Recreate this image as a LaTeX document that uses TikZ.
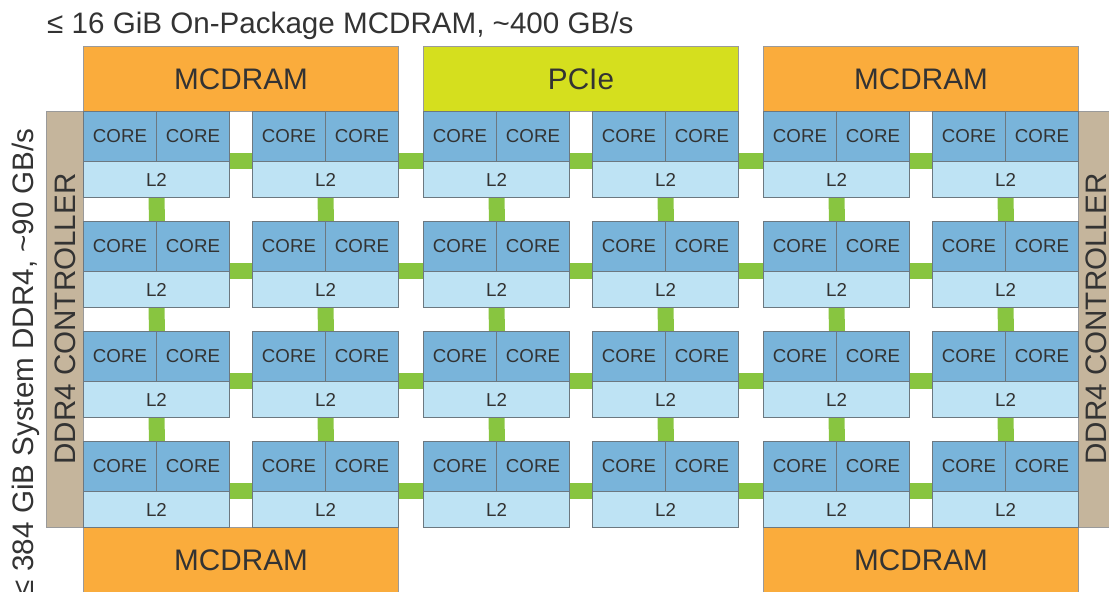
\documentclass[tikz,border=0pt]{standalone}
\usepackage{fontspec}
\setmainfont{Liberation Sans}
\pgfdeclarelayer{bg}
\pgfsetlayers{bg,main}
\definecolor{mcd}{HTML}{FAAC3C}
\definecolor{pcie}{HTML}{D5DF1E}
\definecolor{corec}{HTML}{79B4DA}
\definecolor{ltwoc}{HTML}{BEE3F4}
\definecolor{linkc}{HTML}{88C540}
\definecolor{ctrl}{HTML}{C5B59C}
\definecolor{bord}{HTML}{6C7880}
\definecolor{lbord}{HTML}{9A9A9A}
\definecolor{txt}{HTML}{333333}
\tikzset{
  blk/.style={rectangle, inner sep=0pt, anchor=north west, text=txt},
  core/.style={blk, draw=bord, line width=1pt, fill=corec, minimum width=73pt, minimum height=50pt, font=\fontsize{18.7}{20}\selectfont},
  ltwo/.style={blk, draw=bord, line width=1pt, fill=ltwoc, minimum width=146pt, minimum height=36pt, font=\fontsize{18.7}{20}\selectfont},
  big/.style={blk, draw=lbord, line width=1pt, minimum width=315pt, minimum height=65pt, font=\fontsize{29.7}{32}\selectfont},
  ctrlbox/.style={blk, draw=lbord, line width=1pt, fill=ctrl, minimum width=37pt, minimum height=416pt},
  lnk/.style={draw=linkc, line width=16pt},
  lbl/.style={text=txt, inner sep=0pt, font=\fontsize{29.6}{32}\selectfont}
}
\begin{document}
\begin{tikzpicture}[x=1pt,y=1pt]
\useasboundingbox (0,0) rectangle (1109,-592);
\clip (0,0) rectangle (1109,-592);
% title
\node[lbl, anchor=base west] (title) at (47,-33) {≤ 16 GiB On-Package MCDRAM, \textasciitilde400 GB/s};
\node[lbl, rotate=90, anchor=base east] (sys) at (33,-128) {≤ 384 GiB System DDR4, \textasciitilde90 GB/s};
% top blocks
\node[big, fill=mcd] (mt1) at (83,-46) {MCDRAM};
\node[big, fill=pcie] (pcie) at (423,-46) {PCIe};
\node[big, fill=mcd] (mt2) at (763,-46) {MCDRAM};
% bottom blocks
\node[big, fill=mcd] (mb1) at (83,-527) {MCDRAM};
\node[big, fill=mcd] (mb2) at (763,-527) {MCDRAM};
% controllers
\node[ctrlbox] (ctl) at (46,-111) {};
\node[ctrlbox] (ctr) at (1078,-111) {};
\node[lbl, rotate=90, anchor=base] (ctltxt) at (75,-319) {DDR4 CONTROLLER};
\node[lbl, rotate=90, anchor=base] (ctrtxt) at (1106,-319) {DDR4 CONTROLLER};
% tiles
\foreach \c/\x in {1/83,2/252,3/423,4/592,5/763,6/932}{
  \foreach \r in {0,1,2,3}{
    \pgfmathsetmacro\y{111+110*\r}
    \node[core] (ca-\r-\c) at (\x,-\y) {CORE};
    \node[core] (cb-\r-\c) at (\x+73,-\y) {CORE};
    \node[ltwo] (l-\r-\c) at (\x,-\y-50) {L2};
  }
}
% links
\begin{pgfonlayer}{bg}
\foreach \r in {0,1,2,3}{
  \foreach \c [evaluate=\c as \n using int(\c+1)] in {1,...,5}{
    \draw[lnk] ([yshift=1pt]cb-\r-\c.south east) -- ([yshift=1pt]ca-\r-\n.south west);
  }
}
\foreach \r [evaluate=\r as \n using int(\r+1)] in {0,1,2}{
  \foreach \c in {1,...,6}{
    \draw[lnk] (l-\r-\c.south) -- (ca-\n-\c.north east);
  }
}
\end{pgfonlayer}
\end{tikzpicture}
\end{document}
